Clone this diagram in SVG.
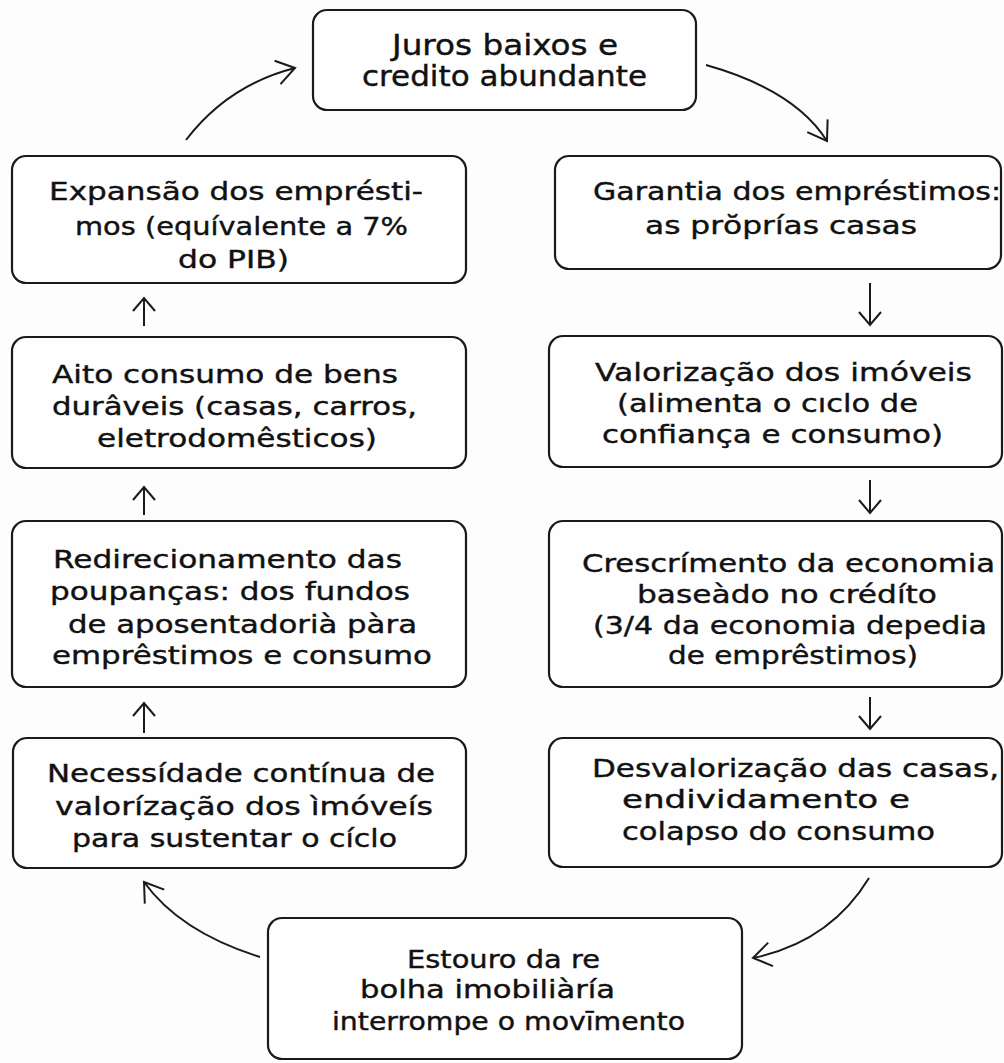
<svg xmlns="http://www.w3.org/2000/svg" width="1004" height="1063" viewBox="0 0 1004 1063">
<style>
.box{fill:#fefefe;stroke:#1a1a1a;stroke-width:2.2}
.t{font-family:"DejaVu Sans","Liberation Sans",sans-serif;font-size:25.5px;fill:#111;stroke:#111;stroke-width:0.4}
.tt{font-size:28px}
.c{fill:none;stroke:#1a1a1a;stroke-width:2}
</style>
<defs>
<marker id="ah" markerUnits="userSpaceOnUse" markerWidth="40" markerHeight="40" viewBox="-20 -20 40 40" refX="0" refY="0" orient="auto" overflow="visible">
<path d="M-13,-11 L0,0 L-13,11" fill="none" stroke="#1a1a1a" stroke-width="2"/>
</marker>
<marker id="ahc" markerUnits="userSpaceOnUse" markerWidth="50" markerHeight="50" viewBox="-25 -25 50 50" refX="0" refY="0" orient="auto" overflow="visible">
<path d="M-18,-12 L0,0 L-18,12" fill="none" stroke="#1a1a1a" stroke-width="2"/>
</marker>
</defs>
<rect width="1004" height="1063" fill="#fdfdfd"/>
<g id="connectors">
<path class="c" d="M706,65 Q795,90 827,141" marker-end="url(#ahc)"/>
<line class="c" x1="870" y1="283" x2="870" y2="325" marker-end="url(#ah)"/>
<line class="c" x1="870" y1="480" x2="870" y2="513" marker-end="url(#ah)"/>
<line class="c" x1="870" y1="697" x2="870" y2="729" marker-end="url(#ah)"/>
<path class="c" d="M869,878 Q830,942 753,958" marker-end="url(#ahc)"/>
<path class="c" d="M260,957 Q180,932 144,882" marker-end="url(#ahc)"/>
<line class="c" x1="144" y1="733" x2="144" y2="703" marker-end="url(#ah)"/>
<line class="c" x1="144" y1="515" x2="144" y2="487" marker-end="url(#ah)"/>
<line class="c" x1="144" y1="326" x2="144" y2="298" marker-end="url(#ah)"/>
<path class="c" d="M186,140 Q228,85 295,68" marker-end="url(#ahc)"/>
</g>
<g id="n-juros">
<rect class="box" x="313" y="10" width="383" height="100" rx="14"/>
<text class="t tt" x="392" y="55" textLength="226" lengthAdjust="spacingAndGlyphs">Juros baixos e</text>
<text class="t tt" x="362" y="86" textLength="285" lengthAdjust="spacingAndGlyphs">credito abundante</text>
</g>
<g id="n-garantia">
<rect class="box" x="555" y="156" width="446" height="113" rx="14"/>
<text class="t" x="593" y="200" textLength="408" lengthAdjust="spacingAndGlyphs">Garantia dos empréstimos:</text>
<text class="t" x="645" y="234" textLength="272" lengthAdjust="spacingAndGlyphs">as prŏprías casas</text>
</g>
<g id="n-valorizacao">
<rect class="box" x="549" y="336" width="453" height="131" rx="14"/>
<text class="t" x="595" y="381" textLength="377" lengthAdjust="spacingAndGlyphs">Valorização dos imóveis</text>
<text class="t" x="617" y="412" textLength="301" lengthAdjust="spacingAndGlyphs">(alimenta o cıclo de</text>
<text class="t" x="602" y="443" textLength="341" lengthAdjust="spacingAndGlyphs">confiança e consumo)</text>
</g>
<g id="n-crescimento">
<rect class="box" x="549" y="521" width="453" height="166" rx="14"/>
<text class="t" x="582" y="572" textLength="413" lengthAdjust="spacingAndGlyphs">Crescrímento da economia</text>
<text class="t" x="637" y="603" textLength="300" lengthAdjust="spacingAndGlyphs">baseàdo no crédíto</text>
<text class="t" x="593" y="634" textLength="394" lengthAdjust="spacingAndGlyphs">(3/4 da economia depedia</text>
<text class="t" x="668" y="664" textLength="250" lengthAdjust="spacingAndGlyphs">de emprêstimos)</text>
</g>
<g id="n-desvalorizacao">
<rect class="box" x="549" y="738" width="453" height="129" rx="14"/>
<text class="t" x="592" y="777" textLength="407" lengthAdjust="spacingAndGlyphs">Desvalorização das casas,</text>
<text class="t" x="622" y="808" textLength="288" lengthAdjust="spacingAndGlyphs">endividamento e</text>
<text class="t" x="622" y="840" textLength="313" lengthAdjust="spacingAndGlyphs">colapso do consumo</text>
</g>
<g id="n-estouro">
<rect class="box" x="268" y="918" width="474" height="141" rx="14"/>
<text class="t" x="407" y="968" textLength="193" lengthAdjust="spacingAndGlyphs">Estouro da re</text>
<text class="t" x="360" y="998" textLength="255" lengthAdjust="spacingAndGlyphs">bolha imobiliàría</text>
<text class="t" x="332" y="1030" textLength="353" lengthAdjust="spacingAndGlyphs">interrompe o movīmento</text>
</g>
<g id="n-necessidade">
<rect class="box" x="13" y="738" width="453" height="130" rx="14"/>
<text class="t" x="47" y="782" textLength="388" lengthAdjust="spacingAndGlyphs">Necessídade contínua de</text>
<text class="t" x="55" y="815" textLength="378" lengthAdjust="spacingAndGlyphs">valorízação dos ìmóveís</text>
<text class="t" x="72" y="847" textLength="325" lengthAdjust="spacingAndGlyphs">para sustentar o cíclo</text>
</g>
<g id="n-redirecionamento">
<rect class="box" x="12" y="521" width="454" height="166" rx="14"/>
<text class="t" x="53" y="568" textLength="349" lengthAdjust="spacingAndGlyphs">Redirecionamento das</text>
<text class="t" x="50" y="600" textLength="360" lengthAdjust="spacingAndGlyphs">poupanças: dos fundos</text>
<text class="t" x="68" y="633" textLength="349" lengthAdjust="spacingAndGlyphs">de aposentadorià pàra</text>
<text class="t" x="52" y="664" textLength="380" lengthAdjust="spacingAndGlyphs">emprêstimos e consumo</text>
</g>
<g id="n-aito">
<rect class="box" x="12" y="337" width="454" height="131" rx="14"/>
<text class="t" x="52" y="383" textLength="346" lengthAdjust="spacingAndGlyphs">Aito consumo de bens</text>
<text class="t" x="52" y="415" textLength="365" lengthAdjust="spacingAndGlyphs">durâveis (casas, carros,</text>
<text class="t" x="97" y="447" textLength="280" lengthAdjust="spacingAndGlyphs">eletrodomêsticos)</text>
</g>
<g id="n-expansao">
<rect class="box" x="12" y="156" width="454" height="127" rx="14"/>
<text class="t" x="49" y="200" textLength="374" lengthAdjust="spacingAndGlyphs">Expansão dos emprésti-</text>
<text class="t" x="75" y="235" textLength="333" lengthAdjust="spacingAndGlyphs">mos (equívalente a 7%</text>
<text class="t" x="178" y="268" textLength="111" lengthAdjust="spacingAndGlyphs">do PIB)</text>
</g>
</svg>
